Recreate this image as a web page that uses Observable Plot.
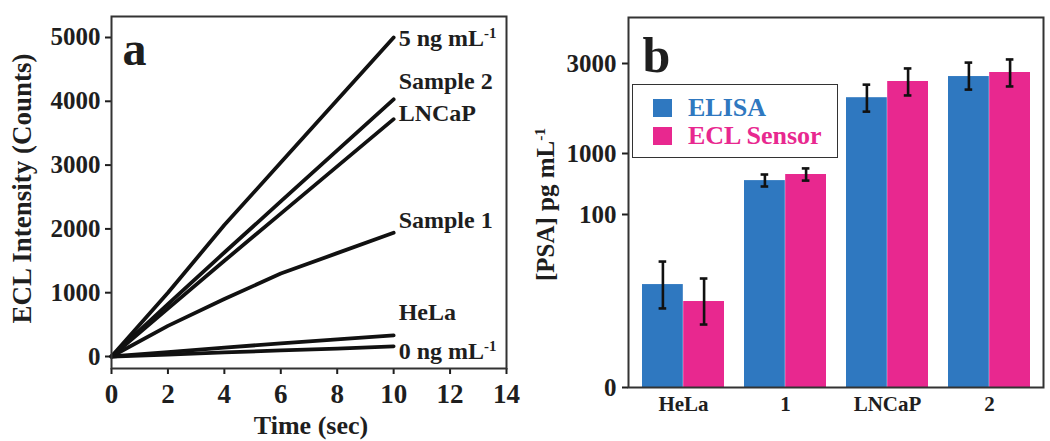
<!DOCTYPE html>
<html>
<head>
<meta charset="utf-8">
<script src="https://cdn.jsdelivr.net/npm/d3@7"></script>
<script src="https://cdn.jsdelivr.net/npm/@observablehq/plot@0.6"></script>
<style>
  html, body { margin: 0; padding: 0; background: #fff; }
  #wrap { position: relative; width: 1050px; height: 441px; overflow: hidden; font-family: 'Liberation Serif', serif; font-weight: bold; }
  #pa { position: absolute; left: 0; top: 0; }
  #pb { position: absolute; left: 525px; top: 0; }
  #legend { position: absolute; left: 632px; top: 84px; width: 204px; height: 72px; border: 1.5px solid #333; background: #fff; }
  .item { position: absolute; left: 20px; height: 24px; display: flex; align-items: center; font-size: 26px; line-height: 24px; white-space: nowrap; }
  .sw { width: 19px; height: 18px; margin-right: 16px; flex: none; }
</style>
</head>
<body>
<div id="wrap">
  <div id="pa"></div>
  <div id="pb"></div>
  <div id="legend"></div>
</div>
<script>
// ---------- Panel a data ----------
const times = [0, 2, 4, 6, 8, 10];
const lineNames = ["5 ng mL⁻¹", "Sample 2", "LNCaP", "Sample 1", "HeLa", "0 ng mL⁻¹"];
const v5ng     = [0, 1000, 2060, 3040, 4020, 5000];
const vSample2 = [0, 820, 1630, 2430, 3230, 4030];
const vLNCaP   = [0, 750, 1500, 2240, 2980, 3720];
const vSample1 = [0, 480, 900, 1300, 1620, 1940];
const vHeLa    = [0, 70, 140, 205, 270, 330];
const v0ng     = [0, 30, 65, 95, 125, 160];
const xTicksA = [0, 2, 4, 6, 8, 10, 12, 14];
const yTicksA = [0, 1000, 2000, 3000, 4000, 5000];

// ---------- Panel b data ----------
const categories = ["HeLa", "1", "LNCaP", "2"];
const seriesB = ["ELISA", "ECL Sensor"];
const elisa   = [59.5, 600, 2240, 2710];
const elisaLo = [45.7, 513, 1930, 2420];
const elisaHi = [72.8, 690, 2530, 3020];
const ecl     = [49.7, 690, 2600, 2800];
const eclLo   = [36.4, 600, 2290, 2490];
const eclHi   = [63, 780, 2890, 3090];
const yTicksB = [0, 100, 1000, 3000];
// the broken (piecewise) value axis of panel b: break values and their relative heights
const yBreaks = [0, 100, 1000, 3000, 4022];
const yBreakPos = [0, 173, 234, 324, 370];

const BLUE = "#2f78c0", PINK = "#e8288f", INK = "#1e1e1e";

// superscript helper: turns "⁻¹" into a raised "-1"
function fixSup(root) {
  root.querySelectorAll("text, tspan").forEach(el => {
    Array.from(el.childNodes).forEach(n => {
      if (n.nodeType === 3 && n.textContent.includes("⁻¹")) {
        const parts = n.textContent.split("⁻¹");
        n.textContent = parts[0];
        const t = document.createElementNS("http://www.w3.org/2000/svg", "tspan");
        t.setAttribute("dy", "-0.55em");
        t.setAttribute("font-size", "0.62em");
        t.textContent = "-1";
        n.after(t);
      }
    });
  });
}
// render helper: shift a whole mark by some pixels
const shift = (sx, sy) => (index, scales, values, dims, ctx, next) => {
  const g = next(index, scales, values, dims, ctx);
  const t = g.getAttribute("transform") || "";
  g.setAttribute("transform", `translate(${sx},${sy}) ${t}`);
  return g;
};

// ---------- Panel a ----------
const seriesA = [v5ng, vSample2, vLNCaP, vSample1, vHeLa, v0ng];
const rowsA = [];
seriesA.forEach((vals, s) => times.forEach((t, i) => rowsA.push({name: lineNames[s], t, v: vals[i]})));
const ends = lineNames.map((n, s) => ({name: n, t: times[times.length - 1], v: seriesA[s][seriesA[s].length - 1]}));
const labelDy = [1, -18, -6, -12, -23, 5];

const pa = Plot.plot({
  width: 525, height: 441,
  marginLeft: 111, marginRight: 19, marginTop: 16, marginBottom: 73,
  style: {fontFamily: "'Liberation Serif', serif", fontWeight: "bold", color: INK, background: "transparent", overflow: "visible"},
  x: {domain: [0, 14]},
  y: {domain: [-188, 5329]},
  marks: [
    Plot.axisX({ticks: xTicksA, tickFormat: d => String(d), tickSize: 6, tickPadding: 9, fontSize: 27, label: null, strokeWidth: 2}),
    Plot.axisY({ticks: yTicksA, tickFormat: d => String(d), tickSize: 6, tickPadding: 5, fontSize: 25, label: null, strokeWidth: 2}),
    Plot.line(rowsA, {x: "t", y: "v", z: "name", stroke: "#111", strokeWidth: 3.8}),
    Plot.text(ends, {x: "t", y: "v", text: "name", textAnchor: "start", dx: 5, fontSize: 24, fill: INK,
      render: (index, scales, values, dims, ctx, next) => {
        const g = next(index, scales, values, dims, ctx);
        g.querySelectorAll("text").forEach((el, k) => {
          const i = index[k];
          const tr = el.getAttribute("transform") || "";
          el.setAttribute("transform", tr + ` translate(0,${labelDy[i]})`);
        });
        return g;
      }}),
    Plot.text(["a"], {frameAnchor: "top-left", dx: 11, dy: 14, fontSize: 48, fill: INK}),
    Plot.text(["ECL Intensity (Counts)"], {frameAnchor: "left", textAnchor: "middle", lineAnchor: "middle", rotate: -90, fontSize: 27, fill: INK, render: shift(-89, -4)}),
    Plot.text(["Time (sec)"], {frameAnchor: "bottom", lineAnchor: "middle", fontSize: 26, fill: INK, render: shift(2, 57)}),
    Plot.frame({stroke: "#333", strokeWidth: 2})
  ]
});
fixSup(pa);
document.getElementById("pa").appendChild(pa);

// ---------- Panel b ----------
const yMap = d3.scaleLinear().domain(yBreaks).range(yBreakPos);
const rowsB = categories.map((c, i) => ({cat: c, elisa: elisa[i], elisaLo: elisaLo[i], elisaHi: elisaHi[i], ecl: ecl[i], eclLo: eclLo[i], eclHi: eclHi[i]}));
const W = 525, mL = 103, mR = 7, pIn = 0.2, pOut = 0.115;
const step = (W - mL - mR) / (categories.length - pIn + 2 * pOut);
const bw = step * (1 - pIn);
const half = bw / 2, q = bw / 4, capIn = (half - 8) / 2;
const Y = k => d => yMap(d[k]);

const pb = Plot.plot({
  width: 525, height: 441,
  marginLeft: mL, marginRight: mR, marginTop: 17, marginBottom: 54,
  style: {fontFamily: "'Liberation Serif', serif", fontWeight: "bold", color: INK, background: "transparent", overflow: "visible"},
  x: {domain: categories, paddingInner: pIn, paddingOuter: pOut, align: 0.5},
  y: {domain: [0, yMap(yBreaks[yBreaks.length - 1])]},
  marks: [
    Plot.barY(rowsB, {x: "cat", y: Y("elisa"), fill: BLUE, insetRight: half}),
    Plot.barY(rowsB, {x: "cat", y: Y("ecl"), fill: PINK, insetLeft: half}),
    Plot.ruleX(rowsB, {x: "cat", y1: Y("elisaLo"), y2: Y("elisaHi"), dx: -q, stroke: "#111", strokeWidth: 2.6}),
    Plot.ruleX(rowsB, {x: "cat", y1: Y("eclLo"), y2: Y("eclHi"), dx: q, stroke: "#111", strokeWidth: 2.6}),
    Plot.tickY(rowsB, {x: "cat", y: Y("elisaLo"), insetLeft: capIn, insetRight: half + capIn, stroke: "#111", strokeWidth: 2.6}),
    Plot.tickY(rowsB, {x: "cat", y: Y("elisaHi"), insetLeft: capIn, insetRight: half + capIn, stroke: "#111", strokeWidth: 2.6}),
    Plot.tickY(rowsB, {x: "cat", y: Y("eclLo"), insetLeft: half + capIn, insetRight: capIn, stroke: "#111", strokeWidth: 2.6}),
    Plot.tickY(rowsB, {x: "cat", y: Y("eclHi"), insetLeft: half + capIn, insetRight: capIn, stroke: "#111", strokeWidth: 2.6}),
    Plot.axisX({tickSize: 0, tickPadding: 9, fontSize: 21, label: null}),
    Plot.axisY({ticks: yTicksB.map(t => yMap(t)), tickFormat: d => String(Math.round(yMap.invert(d))), tickSize: 6, tickPadding: 6, fontSize: 25, label: null, strokeWidth: 2}),
    Plot.text(["b"], {frameAnchor: "top-left", dx: 14, dy: 19, fontSize: 50, fill: INK}),
    Plot.text(["[PSA] pg mL⁻¹"], {frameAnchor: "left", textAnchor: "middle", lineAnchor: "middle", rotate: -90, fontSize: 25, fill: INK, render: shift(-83, 2)}),
    Plot.frame({stroke: "#333", strokeWidth: 2})
  ]
});
fixSup(pb);
document.getElementById("pb").appendChild(pb);

// ---------- Legend ----------
const legend = document.getElementById("legend");
const legendColors = [BLUE, PINK];
seriesB.forEach((s, i) => {
  const it = document.createElement("div");
  it.className = "item";
  it.style.top = (11 + i * 28) + "px";
  it.style.color = legendColors[i];
  const sw = document.createElement("span");
  sw.className = "sw";
  sw.style.background = legendColors[i];
  it.appendChild(sw);
  it.appendChild(document.createTextNode(s));
  legend.appendChild(it);
});
</script>
</body>
</html>
